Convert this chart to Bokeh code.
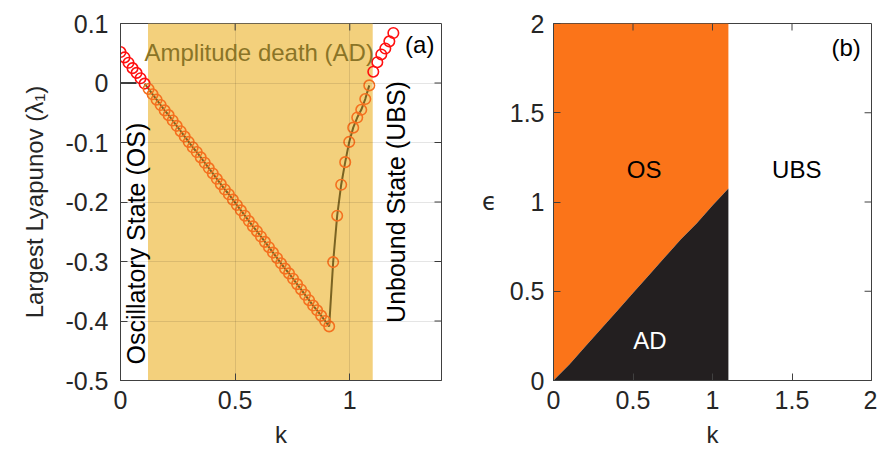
import math
from bokeh.plotting import figure
from bokeh.layouts import row
from bokeh.models import (Range1d, FixedTicker, BoxAnnotation, Label, ColumnDataSource)
from bokeh.embed import file_html
from bokeh.resources import INLINE

# ---------------- data: panel (a) ----------------
k_vals = [0, 0.0175, 0.035, 0.0525, 0.07, 0.0875, 0.105, 0.1225, 0.14, 0.1575,
          0.175, 0.1925, 0.21, 0.2275, 0.245, 0.2625, 0.28, 0.2975, 0.315, 0.3325,
          0.35, 0.3675, 0.385, 0.4025, 0.42, 0.4375, 0.455, 0.4725, 0.49, 0.5075,
          0.525, 0.5425, 0.56, 0.5775, 0.595, 0.6125, 0.63, 0.6475, 0.665, 0.6825,
          0.7, 0.7175, 0.735, 0.7525, 0.77, 0.7875, 0.805, 0.8225, 0.84, 0.8575,
          0.875, 0.8925, 0.91, 0.9275, 0.945, 0.9625, 0.98, 0.9975, 1.015, 1.0325,
          1.05, 1.0675, 1.085, 1.1025, 1.12, 1.1375, 1.155, 1.1725, 1.19]
lyap_vals = [0.052, 0.043, 0.034, 0.025, 0.017, 0.008, -0.001, -0.010, -0.019, -0.028,
             -0.037, -0.046, -0.054, -0.063, -0.072, -0.081, -0.090, -0.099, -0.108, -0.116,
             -0.125, -0.134, -0.143, -0.152, -0.161, -0.170, -0.179, -0.187, -0.196, -0.205,
             -0.214, -0.223, -0.232, -0.241, -0.249, -0.258, -0.267, -0.276, -0.285, -0.294,
             -0.303, -0.312, -0.320, -0.329, -0.338, -0.347, -0.356, -0.365, -0.374, -0.382,
             -0.391, -0.400, -0.409, -0.301, -0.223, -0.171, -0.133, -0.099, -0.075, -0.058,
             -0.045, -0.027, -0.004, 0.019, 0.035, 0.048, 0.058, 0.070, 0.084]
ad_range = [0.12, 1.1]          # amplitude-death window in k
os_zero_k = [0.0, 0.07]         # short zero-exponent segment in the OS region
os_zero_l = [0.0, 0.0]

y_ticks_a = [-0.5, -0.4, -0.3, -0.2, -0.1, 0, 0.1]
y_labels_a = ["-0.5", "-0.4", "-0.3", "-0.2", "-0.1", "0", "0.1"]
x_ticks_a = [0, 0.5, 1]
x_labels_a = ["0", "0.5", "1"]

# ---------------- data: panel (b) ----------------
bnd_k = [0.0, 0.1, 0.2, 0.3, 0.4, 0.5, 0.6, 0.7, 0.8, 0.9, 1.0, 1.1]
bnd_eps = [0.0, 0.09, 0.19, 0.29, 0.39, 0.49, 0.59, 0.69, 0.79, 0.88, 0.98, 1.075]
k_edge = 1.1
ticks_b = [0, 0.5, 1, 1.5, 2]
labels_b = ["0", "0.5", "1", "1.5", "2"]

FONT = "Liberation Sans"
TXT = "#262626"
BOX = "#404040"
RED = "#FF1010"
ORANGE = "#F4701F"
OLIVE = "#7A6322"
YELLOW = "#F3D07C"
FILL_OR = "#FB7419"
FILL_BK = "#231F20"
PLOT_W = 321
PLOT_H = 357
TICK_PX = 7
TOP = 23
BOTTOM = 75


def style_axes(p, xr, yr, xt, xl, yt, yl):
    xo = {t: l for t, l in zip(xt, xl)}
    yo = {t: l for t, l in zip(yt, yl)}
    p.xaxis.ticker = FixedTicker(ticks=xt)
    p.xaxis.major_label_overrides = xo
    p.yaxis.ticker = FixedTicker(ticks=yt)
    p.yaxis.major_label_overrides = yo
    for ax in p.axis:
        ax.major_tick_in = TICK_PX
        ax.major_tick_out = 0
        ax.minor_tick_line_color = None
        ax.axis_line_color = BOX
        ax.major_tick_line_color = BOX
        ax.major_label_text_font = FONT
        ax.major_label_text_font_size = "25px"
        ax.major_label_text_color = TXT
        ax.axis_label_text_font = FONT
        ax.axis_label_text_font_size = "24px"
        ax.axis_label_text_font_style = "normal"
        ax.axis_label_text_color = TXT
    p.outline_line_color = BOX
    # mirrored inward ticks on the top and right edges
    dy = (yr[1] - yr[0]) * TICK_PX / PLOT_H
    dx = (xr[1] - xr[0]) * TICK_PX / PLOT_W
    inner_x = [t for t in xt if xr[0] < t < xr[1]]
    inner_y = [t for t in yt if yr[0] < t < yr[1]]
    p.segment(x0=inner_x, y0=[yr[1]] * len(inner_x), x1=inner_x,
              y1=[yr[1] - dy] * len(inner_x), line_color=BOX, line_width=1)
    p.segment(x0=[xr[1]] * len(inner_y), y0=inner_y, x1=[xr[1] - dx] * len(inner_y),
              y1=inner_y, line_color=BOX, line_width=1)


# ---------------- panel (a) ----------------
xr_a, yr_a = (0, 1.4), (-0.5, 0.1)
p1 = figure(width=120 + PLOT_W + 37, height=TOP + PLOT_H + BOTTOM, output_backend="svg",
            toolbar_location=None,
            x_range=Range1d(*xr_a), y_range=Range1d(*yr_a),
            min_border_left=120, min_border_right=37, min_border_top=TOP,
            min_border_bottom=BOTTOM)
p1.xaxis.axis_label = "k"
p1.yaxis.axis_label = "Largest Lyapunov (λ₁)"
p1.xaxis.major_label_standoff = 10
p1.yaxis.major_label_standoff = 12
p1.xaxis.axis_label_standoff = 9
p1.yaxis.axis_label_standoff = 14

for g in p1.grid:
    g.grid_line_color = "black"
    g.grid_line_alpha = 0.1
    g.level = "glyph"
p1.xgrid.ticker = FixedTicker(ticks=x_ticks_a)
p1.ygrid.ticker = FixedTicker(ticks=y_ticks_a)

p1.add_layout(BoxAnnotation(left=ad_range[0], right=ad_range[1], fill_color=YELLOW,
                            fill_alpha=1.0, line_color=None, level="underlay"))
style_axes(p1, xr_a, yr_a, x_ticks_a, x_labels_a, y_ticks_a, y_labels_a)

# olive curve through the AD part
idx_line = [i for i, kk in enumerate(k_vals) if ad_range[0] - 0.02 <= kk <= ad_range[1]]
p1.line([k_vals[i] for i in idx_line], [lyap_vals[i] for i in idx_line],
        line_color=OLIVE, line_width=2)
p1.line(os_zero_k, os_zero_l, line_color="black", line_width=1.5)

colors = [ORANGE if ad_range[0] <= kk <= ad_range[1] else RED for kk in k_vals]
src = ColumnDataSource(dict(k=k_vals, l=lyap_vals, c=colors))
p1.scatter("k", "l", source=src, marker="circle", size=10.5, fill_color=None,
           line_color="c", line_width=1.6)

p1.add_layout(Label(x=0.605, y=0.052, text="Amplitude death (AD)", text_font=FONT,
                    text_font_size="24px", text_color="#8A7427", text_align="center",
                    text_baseline="middle"))
p1.add_layout(Label(x=1.305, y=0.064, text="(a)", text_font=FONT, text_font_size="24px",
                    text_color="black", text_align="center", text_baseline="middle"))
p1.add_layout(Label(x=0.068, y=-0.27, text="Oscillatory State (OS)", text_font=FONT,
                    text_font_size="25px", text_color="black", text_align="center",
                    text_baseline="middle", angle=math.pi / 2))
p1.add_layout(Label(x=1.203, y=-0.2, text="Unbound State (UBS)", text_font=FONT,
                    text_font_size="25px", text_color="black", text_align="center",
                    text_baseline="middle", angle=math.pi / 2))

# ---------------- panel (b) ----------------
xr_b, yr_b = (0, 2), (0, 2)
p2 = figure(width=72 + PLOT_W + 6, height=TOP + PLOT_H + BOTTOM, output_backend="svg",
            toolbar_location=None,
            x_range=Range1d(*xr_b), y_range=Range1d(*yr_b),
            min_border_left=72, min_border_right=6, min_border_top=TOP,
            min_border_bottom=BOTTOM)
p2.grid.visible = False
p2.xaxis.axis_label = "k"
p2.yaxis.axis_label = "ϵ"
p2.yaxis.axis_label_orientation = "horizontal"
p2.xaxis.major_label_standoff = 10
p2.yaxis.major_label_standoff = 9
p2.xaxis.axis_label_standoff = 9
p2.yaxis.axis_label_standoff = 10

or_x = bnd_k + [k_edge, 0.0]
or_y = bnd_eps + [2.0, 2.0]
bk_x = bnd_k + [k_edge]
bk_y = bnd_eps + [0.0]
p2.patch(or_x, or_y, fill_color=FILL_OR, line_color=None)
p2.patch(bk_x, bk_y, fill_color=FILL_BK, line_color=None)
style_axes(p2, xr_b, yr_b, ticks_b, labels_b, ticks_b, labels_b)
p2.yaxis.axis_label_text_font = "DejaVu Sans"

for x, y, t, c in [(0.57, 1.18, "OS", "black"), (1.53, 1.18, "UBS", "black"),
                   (0.607, 0.225, "AD", "white"), (1.84, 1.865, "(b)", "black")]:
    p2.add_layout(Label(x=x, y=y, text=t, text_font=FONT, text_font_size="24px",
                        text_color=c, text_align="center", text_baseline="middle"))

layout = row(p1, p2)
open("out.html", "w").write(file_html(layout, INLINE))
